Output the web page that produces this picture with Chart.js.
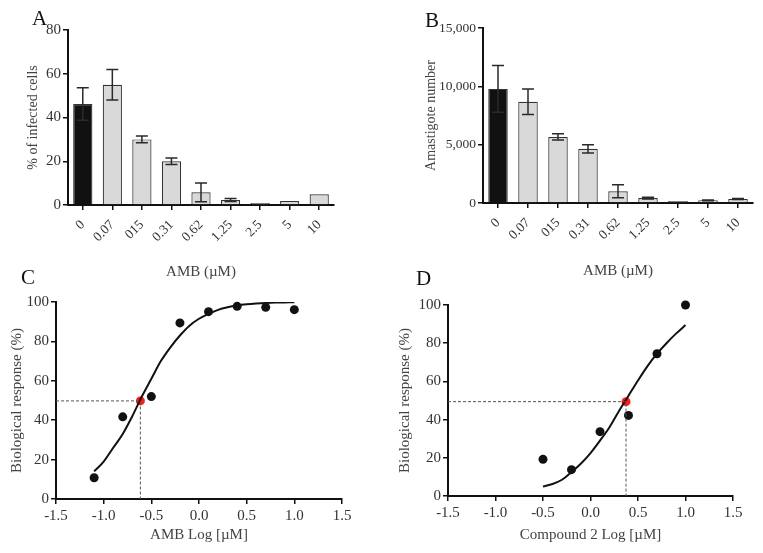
<!DOCTYPE html>
<html lang="en">
<head>
  <meta charset="UTF-8">
  <title>AMB / Compound 2 - infection and dose response</title>
  <script src="https://cdn.jsdelivr.net/npm/chart.js"></script>
  <style>
    body {
      margin: 0;
      background: #fff;
      width: 763px;
      height: 553px;
      position: relative;
      overflow: hidden;
      font-family: 'Liberation Serif', serif;
    }
    .panel { position: absolute; }
    .letter {
      position: absolute;
      font-size: 21px;
      line-height: 1;
      color: #111;
    }
  </style>
</head>
<body>
  <div class="panel" style="left:0;top:0"><canvas id="chartA" width="380" height="285"></canvas></div>
  <div class="panel" style="left:380px;top:0"><canvas id="chartB" width="383" height="285"></canvas></div>
  <div class="panel" style="left:0;top:285px"><canvas id="chartC" width="380" height="268"></canvas></div>
  <div class="panel" style="left:380px;top:285px"><canvas id="chartD" width="383" height="268"></canvas></div>
  <div class="letter" style="left:32px;top:8px">A</div>
  <div class="letter" style="left:425px;top:10px">B</div>
  <div class="letter" style="left:21px;top:267px">C</div>
  <div class="letter" style="left:416px;top:268px">D</div>

  <script>
    // bar panels (A, B)
    const doseLabels = ['0', '0.07', '015', '0.31', '0.62', '1.25', '2.5', '5', '10'];
    const infectedPct = [46.2, 55, 30, 20, 5.8, 2.3, 0.9, 1.8, 4.9];
    const infectedErr = [7.4, 7, 1.5, 1.5, 4.3, 0.7, 0, 0, 0];
    const amastigotes = [9780, 8680, 5660, 4640, 1000, 420, 170, 230, 350];
    const amastigoteErr = [2000, 1100, 270, 350, 560, 80, 0, 30, 40];

    // dose response AMB (C)
    const ambLog = [-1.1, -0.8, -0.5, -0.2, 0.1, 0.4, 0.7, 1.0];
    const ambResp = [10.8, 41.7, 52, 89.4, 95.1, 97.8, 97.3, 96.1];
    const ambFitX = [-1.1, -1.0, -0.9, -0.8, -0.7, -0.6, -0.5, -0.4, -0.3, -0.2, -0.1, 0.0, 0.1, 0.2, 0.3, 0.4, 0.5, 0.6, 0.7, 0.8, 0.9, 1.0];
    const ambFitY = [14, 19, 26, 33, 42, 52, 61, 70, 77, 83, 88, 91.5, 94, 96, 97.3, 98.2, 98.8, 99.2, 99.5, 99.7, 99.8, 99.9];
    const ambIC50 = [-0.615, 49.8];

    // dose response Compound 2 (D)
    const cpdLog = [-0.5, -0.2, 0.1, 0.4, 0.7, 1.0];
    const cpdResp = [19.2, 13.8, 33.7, 42.2, 74.5, 100];
    const cpdFitX = [-0.5, -0.4, -0.3, -0.2, -0.1, 0.0, 0.1, 0.2, 0.3, 0.4, 0.5, 0.6, 0.7, 0.8, 0.9, 1.0];
    const cpdFitY = [5, 6.3, 8.5, 12.5, 17, 22.5, 29, 36, 44.5, 52.5, 60.5, 68, 74.5, 80, 85, 89.5];
    const cpdIC50 = [0.374, 49.4];

    Chart.defaults.font.family = "'Liberation Serif', serif";
    Chart.defaults.color = '#333';

    const tickFont = { size: 15 };
    const axisBorder = { display: true, color: '#111', width: 2 };
    const tickGrid = { display: true, drawOnChartArea: false, drawTicks: true, tickLength: 5, color: '#111', lineWidth: 1.5 };

    const errorBars = {
      id: 'errorBars',
      afterDatasetsDraw(chart, args, opts) {
        const errs = opts.errors;
        if (!errs) return;
        const ctx = chart.ctx;
        const y = chart.scales.y;
        const values = chart.data.datasets[0].data;
        ctx.save();
        ctx.strokeStyle = '#2a2a2a';
        ctx.lineWidth = 1.5;
        chart.getDatasetMeta(0).data.forEach((bar, i) => {
          if (!errs[i]) return;
          const top = y.getPixelForValue(values[i] + errs[i]);
          const bot = y.getPixelForValue(Math.max(values[i] - errs[i], 0));
          ctx.beginPath();
          ctx.moveTo(bar.x, top); ctx.lineTo(bar.x, bot);
          ctx.moveTo(bar.x - 6, top); ctx.lineTo(bar.x + 6, top);
          ctx.moveTo(bar.x - 6, bot); ctx.lineTo(bar.x + 6, bot);
          ctx.stroke();
        });
        ctx.restore();
      }
    };

    function barChart(id, values, errs, yMax, yStep, yTitle, box) {
      return new Chart(document.getElementById(id), {
        type: 'bar',
        data: {
          labels: doseLabels,
          datasets: [{
            data: values,
            backgroundColor: values.map((v, i) => i === 0 ? '#111' : '#d9d9d9'),
            borderColor: '#333',
            borderWidth: 1.2,
            barPercentage: 0.65,
            categoryPercentage: 1
          }]
        },
        options: {
          responsive: false,
          animation: false,
          layout: { padding: { top: box.top, right: box.right, left: 0, bottom: 0 } },
          plugins: { legend: { display: false }, tooltip: { enabled: false }, errorBars: { errors: errs } },
          scales: {
            x: {
              grid: Object.assign({ offset: false }, tickGrid),
              border: axisBorder,
              ticks: { font: { size: 13.5 }, color: '#333', minRotation: 45, maxRotation: 45, autoSkip: false, padding: 7 },
              title: { display: true, text: 'AMB (µM)', font: { size: 15 }, color: '#444', padding: { top: 0, bottom: box.xTitlePad } },
              afterFit: s => { s.height = box.xHeight; }
            },
            y: {
              min: 0, max: yMax,
              grid: tickGrid,
              border: axisBorder,
              ticks: { stepSize: yStep, font: { size: box.yTickSize }, color: '#333', padding: 2 },
              title: { display: true, text: yTitle, font: { size: 14 }, color: '#444', padding: { top: box.yTitlePad, bottom: 0 } },
              afterFit: s => { s.width = box.yWidth; }
            }
          }
        },
        plugins: [errorBars]
      });
    }

    function doseChart(id, xs, ys, fitX, fitY, ic50, xTitle, box) {
      return new Chart(document.getElementById(id), {
        type: 'scatter',
        data: {
          datasets: [
            {
              data: [{ x: -1.5, y: ic50[1] }, { x: ic50[0], y: ic50[1] }, { x: ic50[0], y: 0 }],
              showLine: true, borderColor: '#555', borderWidth: 1, borderDash: [3, 2],
              pointRadius: 0, tension: 0
            },
            {
              data: fitX.map((x, i) => ({ x: x, y: fitY[i] })),
              showLine: true, borderColor: '#111', borderWidth: 2,
              pointRadius: 0, cubicInterpolationMode: 'monotone'
            },
            {
              data: xs.map((x, i) => ({ x: x, y: ys[i] })),
              pointRadius: 4.5, backgroundColor: '#111', borderColor: '#111', borderWidth: 0,
              clip: false
            },
            {
              data: [{ x: ic50[0], y: ic50[1] }],
              pointRadius: 4.5, backgroundColor: '#ff1a1a', borderColor: '#ff1a1a', borderWidth: 0
            }
          ]
        },
        options: {
          responsive: false,
          animation: false,
          layout: { padding: { top: box.top, right: box.right, left: 0, bottom: 0 } },
          plugins: { legend: { display: false }, tooltip: { enabled: false } },
          scales: {
            x: {
              type: 'linear', min: -1.5, max: 1.5,
              grid: tickGrid,
              border: axisBorder,
              ticks: { stepSize: 0.5, font: tickFont, color: '#333', padding: 3, callback: v => v.toFixed(1) },
              title: { display: true, text: xTitle, font: { size: 15 }, color: '#444', padding: { top: 0, bottom: box.xTitlePad } },
              afterFit: s => { s.height = box.xHeight; }
            },
            y: {
              min: 0, max: 100,
              grid: tickGrid,
              border: axisBorder,
              ticks: { stepSize: 20, font: tickFont, color: '#333', padding: 2 },
              title: { display: true, text: 'Biological response (%)', font: { size: 15 }, color: '#444', padding: { top: box.yTitlePad, bottom: 0 } },
              afterFit: s => { s.width = box.yWidth; }
            }
          }
        }
      });
    }

    barChart('chartA', infectedPct, infectedErr, 80, 20, '% of infected cells',
      { top: 30, right: 46, xHeight: 80, yWidth: 68, xTitlePad: 4, yTitlePad: 25, yTickSize: 15 });
    barChart('chartB', amastigotes, amastigoteErr, 15000, 5000, 'Amastigote number',
      { top: 28, right: 10, xHeight: 82, yWidth: 103, xTitlePad: 5, yTitlePad: 43, yTickSize: 13.5 });
    doseChart('chartC', ambLog, ambResp, ambFitX, ambFitY, ambIC50, 'AMB Log [µM]',
      { top: 17, right: 38, xHeight: 54, yWidth: 56, xTitlePad: 9, yTitlePad: 8 });
    doseChart('chartD', cpdLog, cpdResp, cpdFitX, cpdFitY, cpdIC50, 'Compound 2 Log [µM]',
      { top: 20, right: 30, xHeight: 57, yWidth: 68, xTitlePad: 9, yTitlePad: 16 });
  </script>
</body>
</html>
